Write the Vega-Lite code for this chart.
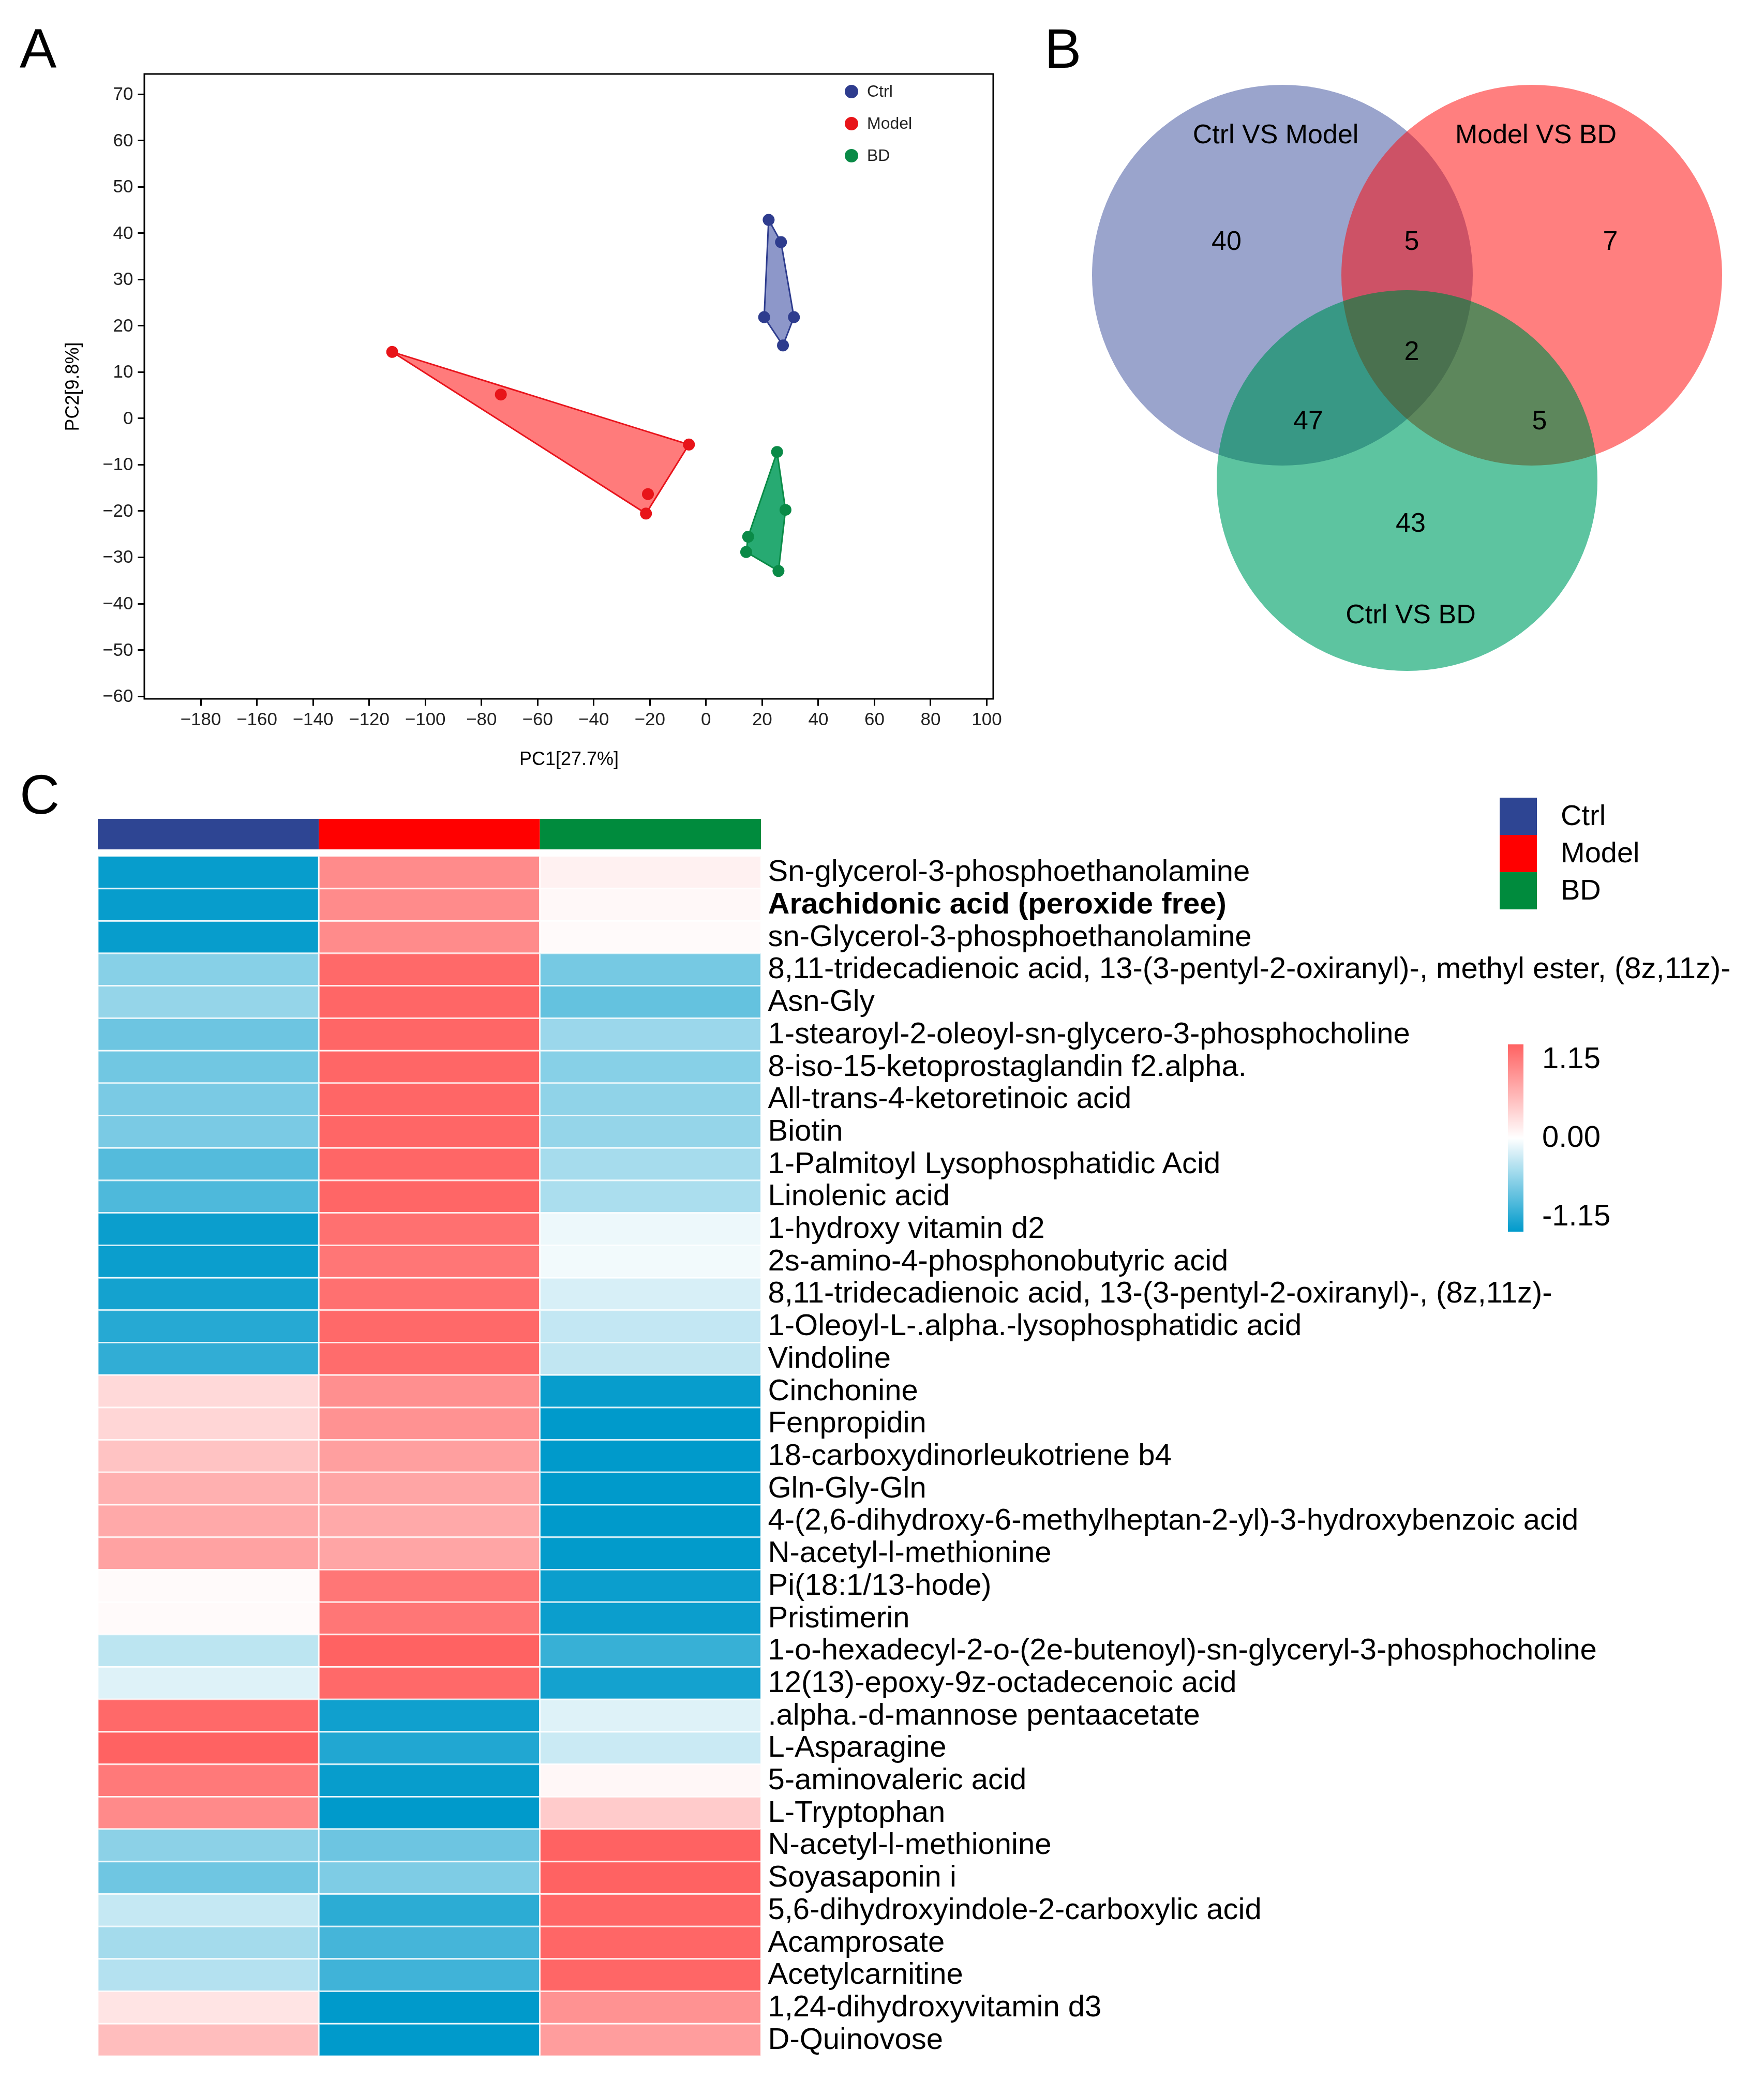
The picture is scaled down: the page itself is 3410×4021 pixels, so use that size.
{
  "$schema": "https://vega.github.io/schema/vega-lite/v6.json",
  "background": "white",
  "padding": {"left": 36, "top": 43, "right": 5, "bottom": 5},
  "config": {
    "font": "Liberation Sans",
    "title": {"font": "Liberation Sans", "color": "black"},
    "axis": {"labelFont": "Liberation Sans", "titleFont": "Liberation Sans"},
    "legend": {"labelFont": "Liberation Sans"}
  },
  "datasets": {
    "pca": [
      {"group": "Ctrl", "pc1": 22.4, "pc2": 42.8, "hull": 1},
      {"group": "Ctrl", "pc1": 26.8, "pc2": 38.0, "hull": 2},
      {"group": "Ctrl", "pc1": 31.4, "pc2": 21.8, "hull": 3},
      {"group": "Ctrl", "pc1": 27.5, "pc2": 15.7, "hull": 4},
      {"group": "Ctrl", "pc1": 20.8, "pc2": 21.8, "hull": 5},
      {"group": "Model", "pc1": -111.7, "pc2": 14.3, "hull": 1},
      {"group": "Model", "pc1": -73.0, "pc2": 5.1, "hull": null},
      {"group": "Model", "pc1": -6.0, "pc2": -5.7, "hull": 2},
      {"group": "Model", "pc1": -20.6, "pc2": -16.4, "hull": null},
      {"group": "Model", "pc1": -21.3, "pc2": -20.6, "hull": 3},
      {"group": "BD", "pc1": 25.4, "pc2": -7.3, "hull": 1},
      {"group": "BD", "pc1": 28.4, "pc2": -19.8, "hull": 2},
      {"group": "BD", "pc1": 25.9, "pc2": -33.0, "hull": 3},
      {"group": "BD", "pc1": 14.4, "pc2": -28.9, "hull": 4},
      {"group": "BD", "pc1": 15.1, "pc2": -25.6, "hull": 5}
    ],
    "venn_sets": [
      {"set": "Ctrl VS Model", "cx": 4.23, "cy": 8.19},
      {"set": "Model VS BD", "cx": 9.05, "cy": 8.19},
      {"set": "Ctrl VS BD", "cx": 6.64, "cy": 4.22}
    ],
    "venn_labels": [
      {"label": "Ctrl VS Model", "x": 4.10, "y": 10.90},
      {"label": "Model VS BD", "x": 9.13, "y": 10.90},
      {"label": "Ctrl VS BD", "x": 6.71, "y": 1.62},
      {"label": "40", "x": 3.15, "y": 8.84},
      {"label": "5", "x": 6.73, "y": 8.84},
      {"label": "7", "x": 10.57, "y": 8.84},
      {"label": "2", "x": 6.73, "y": 6.71},
      {"label": "47", "x": 4.73, "y": 5.37},
      {"label": "5", "x": 9.20, "y": 5.37},
      {"label": "43", "x": 6.71, "y": 3.39}
    ],
    "groups": [{"group": "Ctrl"}, {"group": "Model"}, {"group": "BD"}],
    "heat": [
      {"metabolite": "Sn-glycerol-3-phosphoethanolamine", "Ctrl": -1.12, "Model": 0.85, "BD": 0.1},
      {"metabolite": "Arachidonic acid (peroxide free)", "Ctrl": -1.12, "Model": 0.85, "BD": 0.05},
      {"metabolite": "sn-Glycerol-3-phosphoethanolamine", "Ctrl": -1.12, "Model": 0.85, "BD": 0.04},
      {"metabolite": "8,11-tridecadienoic acid, 13-(3-pentyl-2-oxiranyl)-, methyl ester, (8z,11z)-", "Ctrl": -0.54, "Model": 1.1, "BD": -0.62},
      {"metabolite": "Asn-Gly", "Ctrl": -0.48, "Model": 1.12, "BD": -0.7},
      {"metabolite": "1-stearoyl-2-oleoyl-sn-glycero-3-phosphocholine", "Ctrl": -0.66, "Model": 1.12, "BD": -0.45},
      {"metabolite": "8-iso-15-ketoprostaglandin f2.alpha.", "Ctrl": -0.64, "Model": 1.12, "BD": -0.54},
      {"metabolite": "All-trans-4-ketoretinoic acid", "Ctrl": -0.6, "Model": 1.12, "BD": -0.5},
      {"metabolite": "Biotin", "Ctrl": -0.6, "Model": 1.12, "BD": -0.48},
      {"metabolite": "\u00a01-Palmitoyl Lysophosphatidic Acid", "Ctrl": -0.77, "Model": 1.12, "BD": -0.4},
      {"metabolite": "Linolenic acid", "Ctrl": -0.8, "Model": 1.12, "BD": -0.38},
      {"metabolite": "1-hydroxy vitamin d2", "Ctrl": -1.1, "Model": 1.05, "BD": -0.08},
      {"metabolite": "2s-amino-4-phosphonobutyric acid", "Ctrl": -1.1, "Model": 1.0, "BD": -0.06},
      {"metabolite": "8,11-tridecadienoic acid, 13-(3-pentyl-2-oxiranyl)-, (8z,11z)-", "Ctrl": -1.06, "Model": 1.05, "BD": -0.18},
      {"metabolite": "1-Oleoyl-L-.alpha.-lysophosphatidic acid", "Ctrl": -0.98, "Model": 1.1, "BD": -0.27},
      {"metabolite": "Vindoline", "Ctrl": -0.93, "Model": 1.08, "BD": -0.28},
      {"metabolite": "Cinchonine", "Ctrl": 0.28, "Model": 0.82, "BD": -1.12},
      {"metabolite": "Fenpropidin", "Ctrl": 0.3, "Model": 0.8, "BD": -1.15},
      {"metabolite": "18-carboxydinorleukotriene b4", "Ctrl": 0.44, "Model": 0.7, "BD": -1.15},
      {"metabolite": "Gln-Gly-Gln", "Ctrl": 0.58, "Model": 0.66, "BD": -1.15},
      {"metabolite": "4-(2,6-dihydroxy-6-methylheptan-2-yl)-3-hydroxybenzoic acid", "Ctrl": 0.63, "Model": 0.63, "BD": -1.15},
      {"metabolite": "N-acetyl-l-methionine", "Ctrl": 0.68, "Model": 0.66, "BD": -1.14},
      {"metabolite": "Pi(18:1/13-hode)", "Ctrl": 0.04, "Model": 1.0, "BD": -1.1},
      {"metabolite": "Pristimerin", "Ctrl": 0.04, "Model": 1.0, "BD": -1.1},
      {"metabolite": "1-o-hexadecyl-2-o-(2e-butenoyl)-sn-glyceryl-3-phosphocholine", "Ctrl": -0.3, "Model": 1.15, "BD": -0.9},
      {"metabolite": "12(13)-epoxy-9z-octadecenoic acid", "Ctrl": -0.15, "Model": 1.1, "BD": -1.06},
      {"metabolite": ".alpha.-d-mannose pentaacetate", "Ctrl": 1.1, "Model": -1.08, "BD": -0.15},
      {"metabolite": "L-Asparagine", "Ctrl": 1.15, "Model": -1.0, "BD": -0.24},
      {"metabolite": "5-aminovaleric acid", "Ctrl": 0.98, "Model": -1.12, "BD": 0.06},
      {"metabolite": "L-Tryptophan", "Ctrl": 0.86, "Model": -1.15, "BD": 0.38},
      {"metabolite": "N-acetyl-l-methionine ", "Ctrl": -0.52, "Model": -0.66, "BD": 1.15},
      {"metabolite": "Soyasaponin i", "Ctrl": -0.65, "Model": -0.58, "BD": 1.15},
      {"metabolite": "5,6-dihydroxyindole-2-carboxylic acid", "Ctrl": -0.26, "Model": -0.95, "BD": 1.12},
      {"metabolite": "Acamprosate", "Ctrl": -0.41, "Model": -0.84, "BD": 1.12},
      {"metabolite": "Acetylcarnitine", "Ctrl": -0.34, "Model": -0.86, "BD": 1.12},
      {"metabolite": "1,24-dihydroxyvitamin d3", "Ctrl": 0.2, "Model": -1.15, "BD": 0.8},
      {"metabolite": "D-Quinovose", "Ctrl": 0.48, "Model": -1.15, "BD": 0.72}
    ]
  },
  "spacing": 0,
  "resolve": {"scale": {"color": "independent"}, "legend": {"color": "independent"}},
  "vconcat": [
    {
      "spacing": 81,
      "resolve": {"scale": {"color": "independent"}, "legend": {"color": "independent"}},
      "hconcat": [
        {
          "width": 1641,
          "height": 1208,
          "title": {"text": "A", "anchor": "start", "frame": "group", "dx": -241, "fontSize": 107, "fontWeight": "normal", "baseline": "alphabetic", "offset": -95},
          "view": {"stroke": "black", "strokeWidth": 3},
          "data": {"name": "pca"},
          "encoding": {
            "x": {"field": "pc1", "type": "quantitative",
              "scale": {"domain": [-200, 102.4], "nice": false, "zero": false},
              "axis": {"values": [-180, -160, -140, -120, -100, -80, -60, -40, -20, 0, 20, 40, 60, 80, 100],
                "title": "PC1[27.7%]", "titleFontSize": 36, "titleFontWeight": "normal", "titlePadding": 42, "titleColor": "black",
                "labelFontSize": 35, "labelColor": "#222222", "labelPadding": 9, "tickSize": 13, "tickWidth": 3, "tickColor": "black",
                "domain": false, "grid": false}},
            "y": {"field": "pc2", "type": "quantitative",
              "scale": {"domain": [-60.6, 74.3], "nice": false, "zero": false},
              "axis": {"values": [-60, -50, -40, -30, -20, -10, 0, 10, 20, 30, 40, 50, 60, 70],
                "title": "PC2[9.8%]", "titleFontSize": 36, "titleFontWeight": "normal", "titlePadding": 38, "titleColor": "black",
                "labelFontSize": 35, "labelColor": "#222222", "labelPadding": 9, "tickSize": 13, "tickWidth": 3, "tickColor": "black",
                "domain": false, "grid": false}}
          },
          "layer": [
            {
              "transform": [{"filter": "datum.group === 'Ctrl' && isValid(datum.hull)"}],
              "mark": {"type": "line", "interpolate": "linear-closed", "strokeWidth": 3, "stroke": "#2F3D8E", "fill": "#8D97C9"},
              "encoding": {"order": {"field": "hull", "type": "quantitative"}}
            },
            {
              "transform": [{"filter": "datum.group === 'Model' && isValid(datum.hull)"}],
              "mark": {"type": "line", "interpolate": "linear-closed", "strokeWidth": 3, "stroke": "#E8141C", "fill": "#FF7B7B"},
              "encoding": {"order": {"field": "hull", "type": "quantitative"}}
            },
            {
              "transform": [{"filter": "datum.group === 'BD' && isValid(datum.hull)"}],
              "mark": {"type": "line", "interpolate": "linear-closed", "strokeWidth": 3, "stroke": "#0A8B47", "fill": "#27AA72"},
              "encoding": {"order": {"field": "hull", "type": "quantitative"}}
            },
            {
              "mark": {"type": "circle", "size": 530, "opacity": 1},
              "encoding": {
                "color": {"field": "group", "type": "nominal",
                  "scale": {"domain": ["Ctrl", "Model", "BD"], "range": ["#2E3C8E", "#E81419", "#0A8A47"]},
                  "legend": {"orient": "none", "legendX": 1351, "legendY": 18, "title": null, "symbolType": "circle", "symbolSize": 676,
                    "labelFontSize": 32, "labelColor": "#222222", "rowPadding": 30, "labelOffset": 14, "symbolStrokeWidth": 0, "padding": 0}}
              }
            }
          ]
        },
        {
          "width": 1330,
          "height": 1208,
          "title": {"text": "B", "anchor": "start", "frame": "group", "dx": -37, "fontSize": 107, "fontWeight": "normal", "baseline": "alphabetic", "offset": -95},
          "view": {"stroke": null},
          "encoding": {
            "x": {"field": "cx", "type": "quantitative", "scale": {"domain": [0, 13.3], "nice": false, "zero": false}, "axis": null},
            "y": {"field": "cy", "type": "quantitative", "scale": {"domain": [0, 12.08], "nice": false, "zero": false}, "axis": null}
          },
          "layer": [
            {"data": {"name": "venn_sets"}, "transform": [{"filter": "datum.set === 'Ctrl VS Model'"}],
              "mark": {"type": "circle", "size": 541696, "color": "#9AA4CC", "opacity": 1}},
            {"data": {"name": "venn_sets"}, "transform": [{"filter": "datum.set === 'Model VS BD'"}],
              "mark": {"type": "circle", "size": 541696, "color": "#FF0000", "opacity": 0.5}},
            {"data": {"name": "venn_sets"}, "transform": [{"filter": "datum.set === 'Ctrl VS BD'"}],
              "mark": {"type": "circle", "size": 541696, "color": "#A9DFF6", "opacity": 1, "blend": "multiply"}},
            {"data": {"name": "venn_sets"}, "transform": [{"filter": "datum.set === 'Ctrl VS BD'"}],
              "mark": {"type": "circle", "size": 541696, "color": "#00A437", "opacity": 0.45}},
            {"data": {"name": "venn_labels"},
              "mark": {"type": "text", "fontSize": 52, "color": "black", "align": "center", "baseline": "middle"},
              "encoding": {
                "x": {"field": "x", "type": "quantitative"},
                "y": {"field": "y", "type": "quantitative"},
                "text": {"field": "label", "type": "nominal"}
              }}
          ]
        }
      ]
    },
    {
      "spacing": 13,
      "bounds": "flush",
      "resolve": {"scale": {"color": "independent"}, "legend": {"color": "independent"}},
      "vconcat": [
        {
          "width": 1192,
          "height": 59,
          "title": {"text": "C", "anchor": "start", "frame": "group", "dx": -241, "fontSize": 107, "fontWeight": "normal", "baseline": "alphabetic", "offset": -138},
          "view": {"stroke": null},
          "data": {"name": "groups"},
          "mark": {"type": "rect"},
          "encoding": {
            "x": {"field": "group", "type": "nominal", "sort": null, "axis": null, "scale": {"range": [-90, 1192], "paddingInner": 0, "paddingOuter": 0}},
            "color": {"field": "group", "type": "nominal", "sort": null,
              "scale": {"domain": ["Ctrl", "Model", "BD"], "range": ["#2E4593", "#FF0000", "#008B3D"]},
              "legend": {"orient": "none", "legendX": 2620, "legendY": -41, "title": null, "symbolType": "square", "symbolSize": 5184,
                "symbolStrokeWidth": 0, "symbolOpacity": 1, "rowPadding": 0, "labelFontSize": 56, "labelOffset": 46, "labelColor": "black", "padding": 0}}
          }
        },
        {
          "width": 1192,
          "height": 2320,
          "view": {"stroke": null},
          "data": {"name": "heat"},
          "transform": [{"fold": ["Ctrl", "Model", "BD"], "as": ["group", "value"]}],
          "mark": {"type": "rect", "stroke": "white", "strokeWidth": 3, "strokeOpacity": 0.75},
          "encoding": {
            "x": {"field": "group", "type": "nominal", "sort": ["Ctrl", "Model", "BD"], "axis": null, "scale": {"range": [-90, 1192], "paddingInner": 0, "paddingOuter": 0}},
            "y": {"field": "metabolite", "type": "nominal", "sort": null, "scale": {"paddingInner": 0, "paddingOuter": 0},
              "axis": {"orient": "right", "title": null, "domain": false, "ticks": false, "labelFontSize": 58, "labelPadding": 13,
                "labelLimit": 0, "labelColor": "black",
                "labelFontWeight": {"condition": {"test": "datum.value === 'Arachidonic acid (peroxide free)'", "value": "bold"}, "value": "normal"}}},
            "color": {"field": "value", "type": "quantitative",
              "scale": {"domain": [-1.15, 0, 1.15], "range": ["#009ACB", "#FFFFFF", "#FF6262"], "interpolate": "rgb", "clamp": true},
              "legend": {"orient": "none", "legendX": 2636, "legendY": 364, "title": null, "direction": "vertical",
                "gradientLength": 362, "gradientThickness": 30, "gradientStrokeWidth": 0, "values": [-1.15, 0, 1.15],
                "labelExpr": "datum.value < 0 ? '-' + format(-datum.value, '.2f') : format(datum.value, '.2f')",
                "labelFontSize": 58, "labelOffset": 36, "labelColor": "black", "padding": 0}}
          }
        }
      ]
    }
  ]
}
